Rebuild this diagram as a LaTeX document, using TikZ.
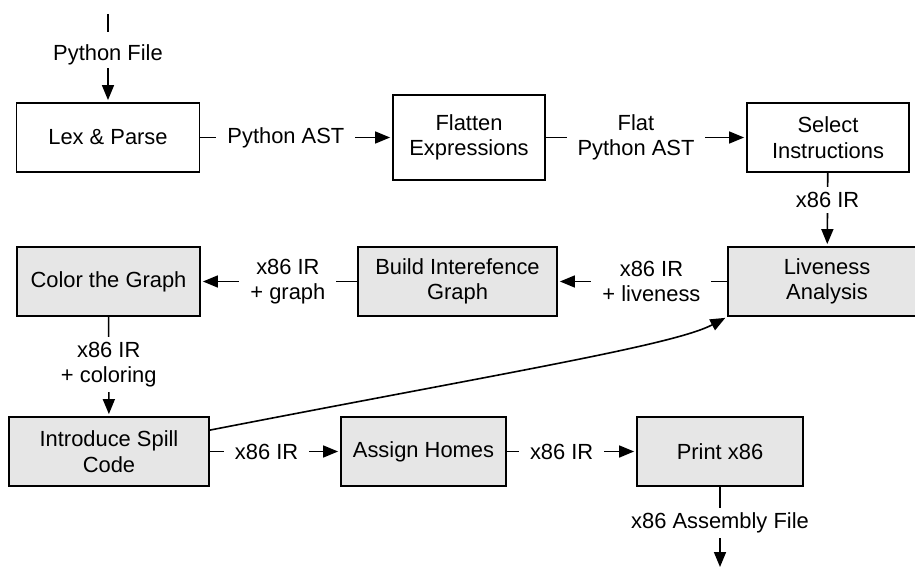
\documentclass[tikz,border=0pt]{standalone}
\usepackage{fontspec}
\setmainfont{Liberation Sans}
\usetikzlibrary{arrows.meta}

\definecolor{passgray}{HTML}{E6E6E6}

\begin{document}
\begin{tikzpicture}[x=1pt,y=1pt,
		stage/.style={draw=black, line width=1.8pt, fill=white, align=center,
			minimum height=69pt, inner sep=0pt,
			font=\fontsize{21.9}{25.5}\selectfont},
		pass/.style={stage, fill=passgray},
		flow/.style={line width=1.6pt, -{Triangle[length=15pt,width=12pt]}, shorten >=2pt},
		lbl/.style={fill=white, inner xsep=11pt, inner ysep=5pt, align=center,
			font=\fontsize{21.9}{25.5}\selectfont}]
		
		\clip (0,0) rectangle (915,-567);
		
		% Front end
		\coordinate (src) at (108,-14);
		\node[stage, minimum width=183pt] (lex) at (108,-137.5) {Lex \& Parse};
		\node[stage, minimum width=152pt, minimum height=85pt] (flat) at (469,-137.5) {Flatten\\Expressions};
		\node[stage, minimum width=162pt] (select) at (828,-137.5) {Select\\Instructions};
		
		% Register allocation
		\node[pass, minimum width=198pt] (live) at (827,-281.5) {Liveness\\Analysis};
		\node[pass, minimum width=199pt] (build) at (457.5,-281.5) {Build Interefence\\Graph};
		\node[pass, minimum width=183pt] (color) at (108.5,-281.5) {Color the Graph};
		
		% Back end
		\node[pass, minimum width=200pt] (spill) at (109,-451.5) {Introduce Spill\\Code};
		\node[pass, minimum width=165pt] (assign) at (423.5,-451.5) {Assign Homes};
		\node[pass, minimum width=166pt] (print) at (720,-451.5) {Print x86};
		\coordinate (out) at (720,-569);
		
		%% Connectors
		\draw[flow] (src) -- node[lbl, pos=.404, text height=24pt, text depth=2pt] {Python File} (lex);
		\draw[flow] (lex) -- node[lbl, pos=.446] {Python AST} (flat);
		\draw[flow] (flat) -- node[lbl, pos=.45] {Flat\\Python AST} (select);
		\draw[flow] (select) -- node[lbl, pos=.37] {x86 IR} (live);
		\draw[flow] (live) -- node[lbl, pos=.447] {x86 IR\\+ liveness} (build);
		\draw[flow] (build) -- node[lbl, pos=.443] {x86 IR\\+ graph} (color);
		\draw[flow] (color) -- node[lbl, pos=.48] {x86 IR\\+ coloring} (spill);
		\draw[flow] (spill) -- node[lbl, pos=.435] {x86 IR} (assign);
		\draw[flow] (assign) -- node[lbl, pos=.424] {x86 IR} (print);
		\draw[flow] (print) -- node[lbl, pos=.44] {x86 Assembly File} (out);
		
		%% Spill loop back to liveness
		\draw[flow] ([yshift=-14pt]spill.north east) .. controls +(11:300) and +(208:60) .. (live.south west);
		
	\end{tikzpicture}
\end{document}
